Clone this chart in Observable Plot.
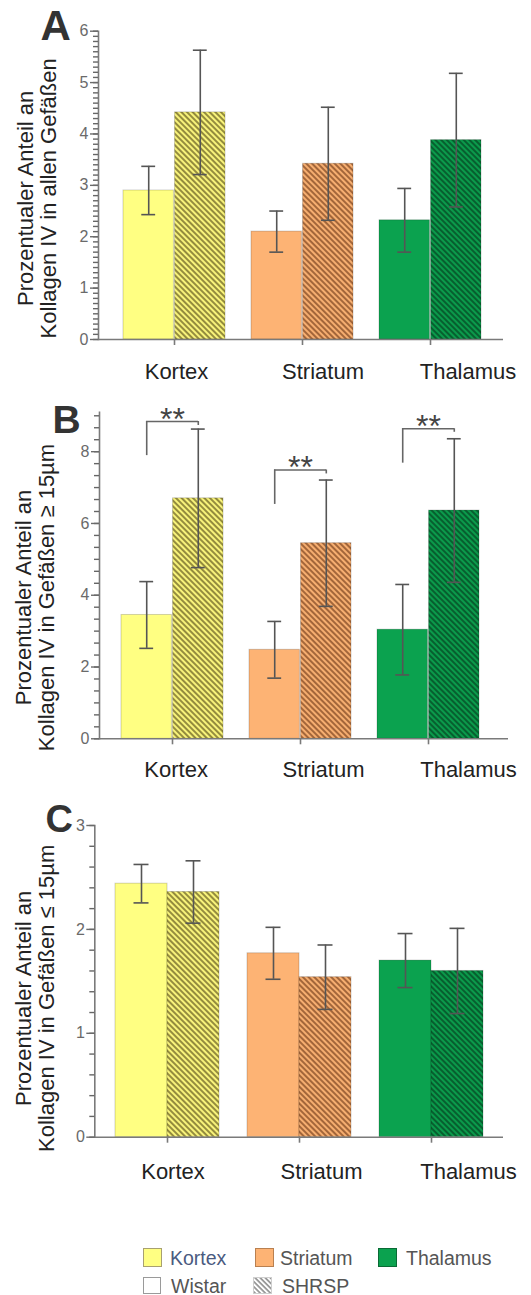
<!DOCTYPE html>
<html>
<head>
<meta charset="utf-8">
<script src="https://cdn.jsdelivr.net/npm/d3@7"></script>
<script src="https://cdn.jsdelivr.net/npm/@observablehq/plot@0.6"></script>
<style>
  body { margin: 0; background: #fff; font-family: "Liberation Sans", Arial, sans-serif; }
  #wrap { position: relative; width: 531px; height: 1295px; overflow: hidden; background: #fff; }
  .panel { position: absolute; left: 0; }
  .lg-sw { position: absolute; box-sizing: border-box; }
  .lg-tx { position: absolute; height: 22px; line-height: 22px; font-size: 19.5px; color: #555; white-space: nowrap; }
</style>
</head>
<body>
<svg width="0" height="0" style="position:absolute;left:0;top:0"><defs id="pdefs"></defs></svg>
<div id="wrap">
  <div class="panel" id="pA" style="top:0"></div>
  <div class="panel" id="pB" style="top:380px"></div>
  <div class="panel" id="pC" style="top:800px"></div>
  <div id="legend"></div>
</div>
<script>
// ---------- data ----------
const regions = ["Kortex", "Striatum", "Thalamus"];
const strains = ["Wistar", "SHRSP"];
const regionFill = ["#ffff82", "#fdb374", "#0ba24f"];
const hatchBg = ["#f8f37a", "#f6ae70", "#0b9a4b"];
const hatchLine = ["#948c3e", "#a3663a", "#075f2f"];

// Panel A: Kollagen IV in allen Gefäßen
const aWistarMean = [2.90, 2.10, 2.32];
const aWistarSD   = [0.47, 0.40, 0.62];
const aShrspMean  = [4.42, 3.42, 3.88];
const aShrspSD    = [1.21, 1.10, 1.30];
// Panel B: Gefäße >= 15 µm
const bWistarMean = [3.45, 2.48, 3.04];
const bWistarSD   = [0.93, 0.79, 1.26];
const bShrspMean  = [6.70, 5.45, 6.36];
const bShrspSD    = [1.93, 1.76, 2.00];
const bBracketLeft  = [7.89, 6.53, 7.68];
const bBracketTop   = [8.84, 7.49, 8.64];
const bBracketRight = [8.73, 7.38, 8.54];
const bStars = ["**", "**", "**"];
// Panel C: Gefäße <= 15 µm
const cWistarMean = [2.44, 1.77, 1.70];
const cWistarSD   = [0.185, 0.25, 0.26];
const cShrspMean  = [2.36, 1.54, 1.60];
const cShrspSD    = [0.30, 0.31, 0.41];

const yLabelA = "Prozentualer Anteil an\nKollagen IV in allen Gefäßen";
const yLabelB = "Prozentualer Anteil an\nKollagen IV in Gefäßen ≥ 15µm";
const yLabelC = "Prozentualer Anteil an\nKollagen IV in Gefäßen ≤ 15µm";

const majorA = [0, 1, 2, 3, 4, 5, 6];
const majorB = [0, 2, 4, 6, 8];
const majorC = [0, 1, 2, 3];
const minorStepA = 0.1, minorStepB = 1 / 3, minorStepC = 0.2;
const yMaxA = 6, yMaxB = 9.1, yMaxC = 3;

const legendRegions = regions;
const legendStrains = strains;

// ---------- hatch patterns ----------
const defs = document.getElementById("pdefs");
const NS = "http://www.w3.org/2000/svg";
function makePattern(id, bg, line, period) {
  const p = document.createElementNS(NS, "pattern");
  p.setAttribute("id", id);
  p.setAttribute("patternUnits", "userSpaceOnUse");
  p.setAttribute("width", period);
  p.setAttribute("height", period);
  p.setAttribute("patternTransform", "rotate(-45)");
  const r1 = document.createElementNS(NS, "rect");
  r1.setAttribute("width", period); r1.setAttribute("height", period); r1.setAttribute("fill", bg);
  const r2 = document.createElementNS(NS, "rect");
  r2.setAttribute("width", period / 2); r2.setAttribute("height", period); r2.setAttribute("fill", line);
  p.appendChild(r1); p.appendChild(r2);
  defs.appendChild(p);
}
regions.forEach((r, i) => makePattern("hatch-" + r, hatchBg[i], hatchLine[i], 4));
makePattern("hatch-legend", "#ffffff", "#9a9a9a", 3.6);

// ---------- panels ----------
function makePanel(p) {
  const rows = [];
  regions.forEach((r, i) => {
    rows.push({region: r, strain: "Wistar", mean: p.wm[i], sd: p.ws[i]});
    rows.push({region: r, strain: "SHRSP", mean: p.sm[i], sd: p.ss[i]});
  });
  const [r0, r1] = p.xRange;
  const pi = p.padInner;
  const bw = (r1 - r0) * (1 - pi) / (3 - pi);
  const q = bw / 4;
  const cap = 15;
  const capInset = (bw - cap) / 2;
  const W = rows.filter(d => d.strain === "Wistar");
  const S = rows.filter(d => d.strain === "SHRSP");
  const ax = "#7a7a7a";
  const eb = "#555";
  const minor = d3.range(0, p.yMax + 1e-9, p.minorStep);

  const marks = [
    Plot.barY(W, {x: "region", y: "mean", fill: "region", insetRight: bw / 2, stroke: "#000", strokeOpacity: 0.18, strokeWidth: 1}),
    ...regions.map(r => Plot.barY(S.filter(d => d.region === r), {x: "region", y: "mean", fill: `url(#hatch-${r})`, insetLeft: bw / 2, stroke: "#000", strokeOpacity: 0.18, strokeWidth: 1})),
    ...[[W, -q], [S, q]].flatMap(([data, dx]) => [
      Plot.ruleX(data, {x: "region", y1: d => d.mean - d.sd, y2: d => d.mean + d.sd, dx, stroke: eb, strokeWidth: 1.6}),
      Plot.tickY(data, {x: "region", y: d => d.mean - d.sd, dx, insetLeft: capInset, insetRight: capInset, stroke: eb, strokeWidth: 1.6}),
      Plot.tickY(data, {x: "region", y: d => d.mean + d.sd, dx, insetLeft: capInset, insetRight: capInset, stroke: eb, strokeWidth: 1.6})
    ]),
    Plot.ruleY([0], {stroke: ax, strokeWidth: 1.6}),
    Plot.frame({anchor: "left", stroke: ax, strokeWidth: 1.6}),
    Plot.axisY(minor, {tickSize: 5, tickFormat: () => "", color: "#666", strokeWidth: 1.4, label: null}),
    Plot.axisY(p.major, {tickSize: 8, tickPadding: 2, fontSize: 16, tickFormat: d => String(d), color: "#6a6a6a", strokeWidth: 1.4, label: null}),
    Plot.axisX({tickSize: 6, tickFormat: () => "", color: ax, strokeWidth: 1.6, label: null}),
    ...regions.map((r, i) => Plot.axisX([r], {tickSize: 0, tickPadding: p.labelPad, dx: p.labelDx[i], fontSize: 22, color: "#222", label: null})),
    Plot.text([p.yLabel], {frameAnchor: "left", text: d => d, rotate: -90, textAnchor: "middle", lineAnchor: "middle",
      dx: p.yLabelDx, dy: p.yLabelDy, fontSize: 22, lineHeight: 1.05, fill: "#222"}),
    Plot.text([p.letter], {frameAnchor: "top-left", text: d => d, textAnchor: "start", lineAnchor: "top",
      dx: p.letterDx, dy: p.letterDy, fontSize: p.letterSize, fontWeight: "bold", fill: "#333"})
  ];

  if (p.brackets) {
    const br = regions.map((r, i) => ({region: r, left: p.brackets.left[i], top: p.brackets.top[i], right: p.brackets.right[i], stars: p.brackets.stars[i]}));
    marks.push(
      Plot.ruleX(br, {x: "region", y1: "left", y2: "top", dx: -q, stroke: "#666", strokeWidth: 1.6}),
      Plot.ruleX(br, {x: "region", y1: "right", y2: "top", dx: q, stroke: "#666", strokeWidth: 1.6}),
      Plot.tickY(br, {x: "region", y: "top", insetLeft: bw / 4 - 0.8, insetRight: bw / 4 - 0.8, stroke: "#666", strokeWidth: 1.6}),
      Plot.text(br, {x: "region", y: "top", text: "stars", lineAnchor: "bottom", dy: 8, fontSize: 32, fill: "#444"})
    );
  }

  return Plot.plot({
    width: 531,
    height: p.height,
    marginLeft: p.ml, marginRight: p.mr, marginTop: p.mt, marginBottom: p.mb,
    x: {domain: regions, range: p.xRange, paddingInner: pi, paddingOuter: 0, align: 0.5, label: null},
    y: {domain: [0, p.yMax], label: null},
    color: {domain: regions, range: regionFill},
    style: {fontFamily: "'Liberation Sans', Arial, sans-serif", background: "transparent", overflow: "visible", color: "#333"},
    marks
  });
}

document.getElementById("pA").appendChild(makePanel({
  height: 380, ml: 98, mr: 28, mt: 30.7, mb: 41,
  xRange: [122, 483], padInner: 0.2,
  wm: aWistarMean, ws: aWistarSD, sm: aShrspMean, ss: aShrspSD,
  yMax: yMaxA, major: majorA, minorStep: minorStepA,
  labelPad: 24, labelDx: [2, 20.5, 37.5],
  yLabel: yLabelA, yLabelDx: -61.5, yLabelDy: 13,
  letter: "A", letterDx: -58, letterDy: -20.7, letterSize: 42
}));

document.getElementById("pB").appendChild(makePanel({
  height: 420, ml: 99, mr: 23, mt: 31.7, mb: 61.7,
  xRange: [120, 481], padInner: 0.2,
  wm: bWistarMean, ws: bWistarSD, sm: bShrspMean, ss: bShrspSD,
  yMax: yMaxB, major: majorB, minorStep: minorStepB,
  labelPad: 23, labelDx: [3.6, 23, 40],
  yLabel: yLabelB, yLabelDx: -64, yLabelDy: 22,
  letter: "B", letterDx: -47, letterDy: -6.7, letterSize: 39,
  brackets: {left: bBracketLeft, top: bBracketTop, right: bBracketRight, stars: bStars}
}));

document.getElementById("pC").appendChild(makePanel({
  height: 380, ml: 94.3, mr: 28, mt: 25, mb: 43.3,
  xRange: [115, 483.3], padInner: 0.213,
  wm: cWistarMean, ws: cWistarSD, sm: cShrspMean, ss: cShrspSD,
  yMax: yMaxC, major: majorC, minorStep: minorStepC,
  labelPad: 26, labelDx: [5.5, 22, 37],
  yLabel: yLabelC, yLabelDx: -60, yLabelDy: 17,
  letter: "C", letterDx: -49.3, letterDy: -20, letterSize: 38
}));

// ---------- legend ----------
const legend = document.getElementById("legend");
function addSwatch(x, y, w, h, bg, border) {
  const s = document.createElement("div");
  s.className = "lg-sw";
  s.style.left = x + "px"; s.style.top = y + "px"; s.style.width = w + "px"; s.style.height = h + "px";
  s.style.background = bg; s.style.border = "1px solid " + border;
  legend.appendChild(s);
  return s;
}
function addText(x, cy, txt, color) {
  const t = document.createElement("div");
  t.className = "lg-tx";
  t.style.left = x + "px"; t.style.top = (cy - 11) + "px";
  if (color) t.style.color = color;
  t.textContent = txt;
  legend.appendChild(t);
}
const lgSwX = [143, 255, 378], lgTxX = [170, 280, 406];
const lgBorders = ["#a8a070", "#b98050", "#0a6a35"];
legendRegions.forEach((r, i) => {
  addSwatch(lgSwX[i], 1248, 19, 19, regionFill[i], lgBorders[i]);
  addText(lgTxX[i], 1257.5, r, i === 0 ? "#4a5a80" : "#555");
});
// Wistar swatch
addSwatch(143, 1277, 18, 17, "#fff", "#9a9a9a");
addText(171, 1285.5, legendStrains[0], "#555");
// SHRSP swatch (hatched)
const hs = document.createElementNS(NS, "svg");
hs.setAttribute("width", 19); hs.setAttribute("height", 17);
hs.style.position = "absolute"; hs.style.left = "253px"; hs.style.top = "1277px";
const hr = document.createElementNS(NS, "rect");
hr.setAttribute("x", 0.5); hr.setAttribute("y", 0.5); hr.setAttribute("width", 18); hr.setAttribute("height", 16);
hr.setAttribute("fill", "url(#hatch-legend)"); hr.setAttribute("stroke", "#cfcfcf");
hs.appendChild(hr);
legend.appendChild(hs);
addText(282, 1285.5, legendStrains[1], "#555");
</script>
</body>
</html>
